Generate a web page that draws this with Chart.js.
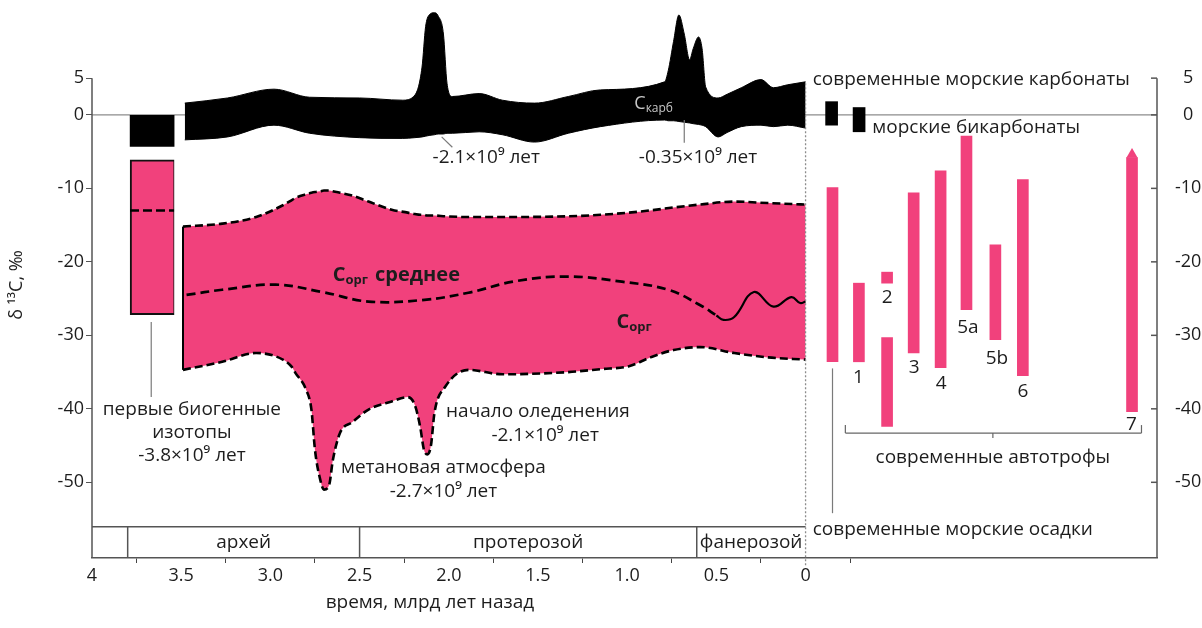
<!DOCTYPE html>
<html lang="ru">
<head>
    <meta charset="UTF-8">
    <title>δ13C — изотопная история углерода</title>
    <script src="https://cdn.jsdelivr.net/npm/chart.js"></script>
    <style>
        html, body { margin: 0; padding: 0; background: #fff; }
        canvas { display: block; }
    </style>
</head>
<body>
    <canvas id="chart" width="1202" height="628"></canvas>
    <script>
        // axis ticks
        const xTicks = [4, 3.5, 3, 2.5, 2, 1.5, 1, 0.5, 0];
        const yTicks = [5, 0, -10, -20, -30, -40, -50];

        // C карб band (время, млрд лет назад)
        const carbTime  = [3.48, 3.24, 2.98, 2.78, 2.50, 2.26, 2.19, 2.15, 2.13, 2.11, 2.08, 2.06, 2.03, 2.01, 1.98, 1.83, 1.70, 1.52, 1.33, 1.15, 0.79, 0.77, 0.74, 0.71, 0.68, 0.65, 0.63, 0.60, 0.58, 0.56, 0.49, 0.44, 0.36, 0.25, 0.18, 0.10, 0.0];
        const carbUpper = [1.6, 2.3, 3.5, 2.4, 2.3, 2.0, 2.7, 6.5, 12.0, 13.6, 13.9, 13.5, 11.0, 4.3, 2.5, 2.9, 2.0, 1.6, 2.5, 3.4, 4.5, 6.0, 10.0, 13.6, 11.0, 7.5, 9.0, 10.6, 9.0, 3.8, 2.3, 2.8, 3.7, 4.8, 3.7, 4.1, 4.5];
        const carbLower = [-3.4, -3.0, -1.4, -2.5, -3.1, -3.2, -3.1, -3.0, -2.9, -2.8, -2.7, -2.6, -2.6, -2.5, -2.5, -2.3, -2.7, -3.7, -2.5, -1.6, -0.7, -0.8, -0.8, -0.9, -1.0, -1.1, -1.2, -1.3, -1.4, -1.6, -3.0, -2.4, -1.6, -1.4, -1.6, -1.4, -1.8];

        // C орг envelope
        const orgTime  = [3.49, 3.27, 3.08, 2.93, 2.88, 2.86, 2.80, 2.77, 2.75, 2.72, 2.70, 2.67, 2.65, 2.61, 2.54, 2.45, 2.32, 2.23, 2.19, 2.16, 2.14, 2.12, 2.10, 2.08, 2.02, 1.89, 1.70, 1.33, 1.15, 0.99, 0.87, 0.74, 0.59, 0.40, 0.21, 0.0];
        const orgUpper = [-15.2, -14.8, -13.9, -12.3, -11.6, -11.3, -10.8, -10.6, -10.5, -10.4, -10.3, -10.3, -10.4, -10.6, -11.0, -11.8, -12.9, -13.3, -13.5, -13.6, -13.6, -13.7, -13.7, -13.7, -13.8, -13.9, -13.9, -13.8, -13.6, -13.3, -13.0, -12.6, -12.2, -11.8, -12.0, -12.2];
        const orgLower = [-34.7, -33.6, -32.4, -33.3, -34.3, -35.1, -37.4, -40.1, -45.6, -49.7, -51.0, -50.3, -47.0, -43.3, -41.8, -40.1, -39.0, -38.4, -39.5, -42.5, -45.5, -46.2, -45.0, -40.5, -37.0, -34.7, -35.3, -35.0, -34.6, -34.2, -33.0, -32.0, -31.6, -32.4, -33.0, -33.3];

        // C орг среднее
        const meanTime = [3.47, 3.27, 2.97, 2.71, 2.45, 2.15, 1.89, 1.62, 1.33, 1.03, 0.77, 0.59, 0.50];
        const meanVal  = [-24.5, -23.8, -23.1, -24.1, -25.4, -25.2, -24.2, -22.6, -22.0, -22.7, -23.8, -25.9, -27.3];
        const wigTime  = [0.50, 0.46, 0.40, 0.29, 0.18, 0.08, 0.03, 0.0];
        const wigVal   = [-27.3, -27.9, -27.5, -24.1, -26.1, -24.8, -25.6, -25.4];

        // первые биогенные изотопы (~3.8 млрд лет)
        const earlyX = 3.663;
        const earlyCarb = [-4.3, 0];
        const earlyOrg = [-27.2, -6.1];
        const earlyOrgMean = -13.0;
        const earlyOrgSpan = [3.787, 3.54];

        // современные морские карбонаты / бикарбонаты
        const carbModernX = [-0.146, -0.30];
        const carbModernLow = [-1.4, -2.3];
        const carbModernHigh = [1.8, 1.0];

        // современные морские осадки + автотрофы 1..7
        const modernX    = [-0.151, -0.299, -0.457, -0.457, -0.606, -0.757, -0.902, -1.064, -1.218, -1.830];
        const modernLow  = [-33.6, -33.6, -22.9, -42.4, -32.4, -34.4, -26.5, -30.6, -35.5, -40.4];
        const modernHigh = [-9.9, -22.9, -21.4, -30.3, -10.6, -7.6, -2.9, -17.7, -8.8, -5.8];
        const autoLabels = ['1', '2', '3', '4', '5a', '5b', '6', '7'];

        // геологические эоны
        const eraNames = ['архей', 'протерозой', 'фанерозой'];
        const eraStart = [3.80, 2.5, 0.61];
        const eraEnd   = [2.5, 0.61, 0];

        const PINK = '#f1417c';
        const INK = '#1d1d1d';
        const FONT = "'Open Sans', sans-serif";
        const LABEL = `19px ${FONT}`;

        const pts = (xs, ys) => xs.map((x, i) => ({ x, y: ys[i] }));
        const bars = (xs, lo, hi) => xs.map((x, i) => ({ x, y: [lo[i], hi[i]] }));

        function seg(ctx, x1, y1, x2, y2) {
            ctx.beginPath();
            ctx.moveTo(x1, y1);
            ctx.lineTo(x2, y2);
            ctx.stroke();
        }

        function text(ctx, s, x, y, align, font, color) {
            ctx.font = font || LABEL;
            ctx.fillStyle = color || INK;
            ctx.textAlign = align || 'center';
            ctx.textBaseline = 'middle';
            ctx.fillText(s, x, y);
        }

        // "C" with subscript, then optional tail text
        function subText(ctx, x, y, sub, tail, weight, color, size) {
            ctx.textBaseline = 'middle';
            ctx.textAlign = 'left';
            ctx.fillStyle = color || INK;
            ctx.font = `${weight} ${size}px ${FONT}`;
            ctx.fillText('C', x, y);
            let cx = x + ctx.measureText('C').width;
            ctx.font = `${weight} ${Math.round(size * 0.65)}px ${FONT}`;
            ctx.fillText(sub, cx, y + 5);
            cx += ctx.measureText(sub).width + 7;
            if (tail) {
                ctx.font = `${weight} ${size}px ${FONT}`;
                ctx.fillText(tail, cx, y);
            }
        }

        // keep the plot area fixed: no extra room for edge tick labels
        const noPadY = s => { s.paddingTop = 0; s.paddingBottom = 0; };

        const deco = {
            id: 'deco',
            beforeDatasetsDraw(chart) {
                const { ctx, chartArea: a, scales } = chart;
                const X = v => scales.x.getPixelForValue(v);
                const Y = v => scales.y.getPixelForValue(v);
                ctx.save();
                // zero line
                ctx.strokeStyle = '#8c8c8c';
                ctx.lineWidth = 1.2;
                seg(ctx, a.left, Y(0), a.right, Y(0));
                // axis lines
                ctx.strokeStyle = '#555';
                ctx.lineWidth = 1.5;
                seg(ctx, a.left, Y(5), a.left, a.bottom);
                seg(ctx, a.right, Y(5), a.right, a.bottom);
                yTicks.forEach(v => seg(ctx, a.right - 6, Y(v), a.right, Y(v)));
                // era band
                const top = Y(-56.05);
                seg(ctx, a.left, top, X(0), top);
                eraStart.forEach(v => seg(ctx, X(v), top, X(v), a.bottom));
                eraNames.forEach((n, i) => {
                    text(ctx, n, (X(eraStart[i]) + X(eraEnd[i])) / 2, (top + a.bottom) / 2);
                });
                ctx.restore();
            },
            afterDatasetsDraw(chart) {
                const { ctx, chartArea: a, scales } = chart;
                const X = v => scales.x.getPixelForValue(v);
                const Y = v => scales.y.getPixelForValue(v);
                ctx.save();

                // vertical at t = 0
                ctx.strokeStyle = '#8c8c8c';
                ctx.lineWidth = 1.3;
                ctx.setLineDash([2, 2]);
                seg(ctx, X(0), Y(4.3), X(0), a.bottom + 9);
                ctx.setLineDash([]);

                // leader lines
                ctx.strokeStyle = '#7a7a7a';
                ctx.lineWidth = 1.2;
                seg(ctx, X(3.668), Y(-28.2), X(3.668), Y(-38.4));
                seg(ctx, X(-0.151), Y(-34.5), X(-0.151), Y(-54.2));
                seg(ctx, X(2.04), Y(-3.0), X(1.98), Y(-4.4));
                seg(ctx, X(0.68), Y(-0.7), X(0.68), Y(-3.8));

                // bracket: современные автотрофы
                ctx.strokeStyle = '#666';
                const by = Y(-43.3);
                seg(ctx, X(-0.223), by, X(-1.883), by);
                seg(ctx, X(-0.223), by, X(-0.223), by - 8);
                seg(ctx, X(-1.883), by, X(-1.883), by - 8);
                seg(ctx, X(-1.05), by, X(-1.05), by + 5);

                // labels
                text(ctx, 'современные морские карбонаты', X(-0.04), Y(4.76), 'left');
                text(ctx, 'морские бикарбонаты', X(-0.374), Y(-1.77), 'left');
                text(ctx, 'современные автотрофы', X(-1.05), Y(-46.7));
                text(ctx, 'современные морские осадки', X(-0.04), Y(-56.5), 'left');

                text(ctx, '-2.1×10⁹ лет', X(1.79), Y(-5.85));
                text(ctx, '-0.35×10⁹ лет', X(0.603), Y(-5.85));

                text(ctx, 'первые биогенные', X(3.44), Y(-40.1));
                text(ctx, 'изотопы', X(3.44), Y(-43.3));
                text(ctx, '-3.8×10⁹ лет', X(3.44), Y(-46.3));

                text(ctx, 'метановая атмосфера', X(2.03), Y(-48.0));
                text(ctx, '-2.7×10⁹ лет', X(2.03), Y(-51.3));

                text(ctx, 'начало оледенения', X(1.50), Y(-40.4));
                text(ctx, '-2.1×10⁹ лет', X(1.46), Y(-43.7));

                const numPos = [[-0.296, -35.8], [-0.458, -24.9], [-0.609, -34.4], [-0.76, -36.5],
                                [-0.91, -29.0], [-1.073, -33.1], [-1.218, -37.7], [-1.827, -42.2]];
                autoLabels.forEach((s, i) => text(ctx, s, X(numPos[i][0]), Y(numPos[i][1])));

                subText(ctx, X(0.96), Y(1.5), 'карб', '', 'normal', '#c8c8c8', 18);
                subText(ctx, X(2.65), Y(-21.8), 'орг', 'среднее', 'bold', INK, 20);
                subText(ctx, X(1.06), Y(-28.2), 'орг', '', 'bold', INK, 20);

                // x axis title
                text(ctx, 'время, млрд лет назад', X(2.106), a.bottom + 45);
                ctx.restore();
            }
        };

        const lineBase = { type: 'line', pointRadius: 0, borderColor: '#000', cubicInterpolationMode: 'monotone' };

        new Chart(document.getElementById('chart'), {
            type: 'line',
            data: {
                datasets: [
                    { ...lineBase, data: pts(wigTime, wigVal), borderWidth: 2.2, tension: 0.4, cubicInterpolationMode: 'default', fill: false },
                    { ...lineBase, data: pts(meanTime, meanVal), borderWidth: 2.7, borderDash: [9, 5], tension: 0.4, cubicInterpolationMode: 'default', fill: false },
                    { ...lineBase, data: pts(earlyOrgSpan, [earlyOrgMean, earlyOrgMean]), borderWidth: 2.5, borderDash: [9, 4], fill: false },
                    { ...lineBase, data: pts([orgTime[0], orgTime[0]], [orgUpper[0], orgLower[0]]), borderWidth: 2, fill: false },
                    { ...lineBase, data: pts(orgTime, orgUpper), borderWidth: 2.6, borderDash: [8, 4], fill: false },
                    { ...lineBase, data: pts(orgTime, orgLower), borderWidth: 2.6, borderDash: [8, 4], fill: '-1', backgroundColor: PINK },
                    { ...lineBase, data: pts(carbTime, carbUpper), borderWidth: 1, fill: false, clip: false },
                    { ...lineBase, data: pts(carbTime, carbLower), borderWidth: 1, fill: '-1', backgroundColor: '#000', clip: false },
                    { type: 'line', data: [{ x: modernX[9], y: modernHigh[9] + 0.4 }], showLine: false,
                      pointStyle: 'triangle', pointRadius: 6.5, pointBackgroundColor: PINK, pointBorderWidth: 0 },
                    { type: 'bar', data: bars(modernX, modernLow, modernHigh), backgroundColor: PINK,
                      barThickness: 11, grouped: false, borderWidth: 0 },
                    { type: 'bar', data: bars(carbModernX, carbModernLow, carbModernHigh), backgroundColor: '#000',
                      barThickness: 12, grouped: false, borderWidth: 0 },
                    { type: 'bar', data: [{ x: earlyX, y: earlyCarb }], backgroundColor: '#000',
                      barThickness: 44, grouped: false, borderWidth: 0 },
                    { type: 'bar', data: [{ x: earlyX, y: earlyOrg }], backgroundColor: PINK, borderColor: '#111',
                      borderWidth: { top: 2, left: 2, bottom: 2, right: 1 }, borderSkipped: false,
                      barThickness: 44, grouped: false }
                ]
            },
            options: {
                responsive: false,
                animation: false,
                layout: { padding: { top: 12 } },
                plugins: { legend: { display: false }, tooltip: { enabled: false } },
                scales: {
                    x: {
                        type: 'linear', reverse: true, min: -1.97, max: 4, offset: false,
                        afterBuildTicks: s => { s.ticks = xTicks.map(v => ({ value: v })); },
                        afterFit: s => { s.height = 70; s.paddingLeft = 0; s.paddingRight = 0; },
                        ticks: {
                            callback: v => (v === 4 || v === 0) ? String(v) : v.toFixed(1),
                            font: { family: FONT, size: 18 }, color: INK, padding: 2, autoSkip: false, maxRotation: 0
                        },
                        grid: { drawOnChartArea: false, tickLength: 5, color: '#444' },
                        border: { display: true, color: '#555', width: 1.5 }
                    },
                    y: {
                        position: 'left', min: -60.3, max: 14,
                        afterBuildTicks: s => { s.ticks = yTicks.map(v => ({ value: v })); },
                        afterFit: s => { s.width = 92; noPadY(s); },
                        ticks: { font: { family: FONT, size: 18 }, color: INK, padding: 2 },
                        grid: { drawOnChartArea: false, tickLength: 6, color: '#555' },
                        border: { display: false },
                        title: { display: true, text: 'δ ¹³C, ‰', font: { family: FONT, size: 18 }, color: INK, padding: { top: 6, bottom: 0 } }
                    },
                    y2: {
                        position: 'right', min: -60.3, max: 14,
                        afterBuildTicks: s => { s.ticks = yTicks.map(v => ({ value: v })); },
                        afterFit: s => { s.width = 45; noPadY(s); },
                        ticks: { font: { family: FONT, size: 18 }, color: INK, padding: 10, crossAlign: 'center' },
                        grid: { display: false },
                        border: { display: false }
                    }
                }
            },
            plugins: [deco]
        });
    </script>
</body>
</html>
